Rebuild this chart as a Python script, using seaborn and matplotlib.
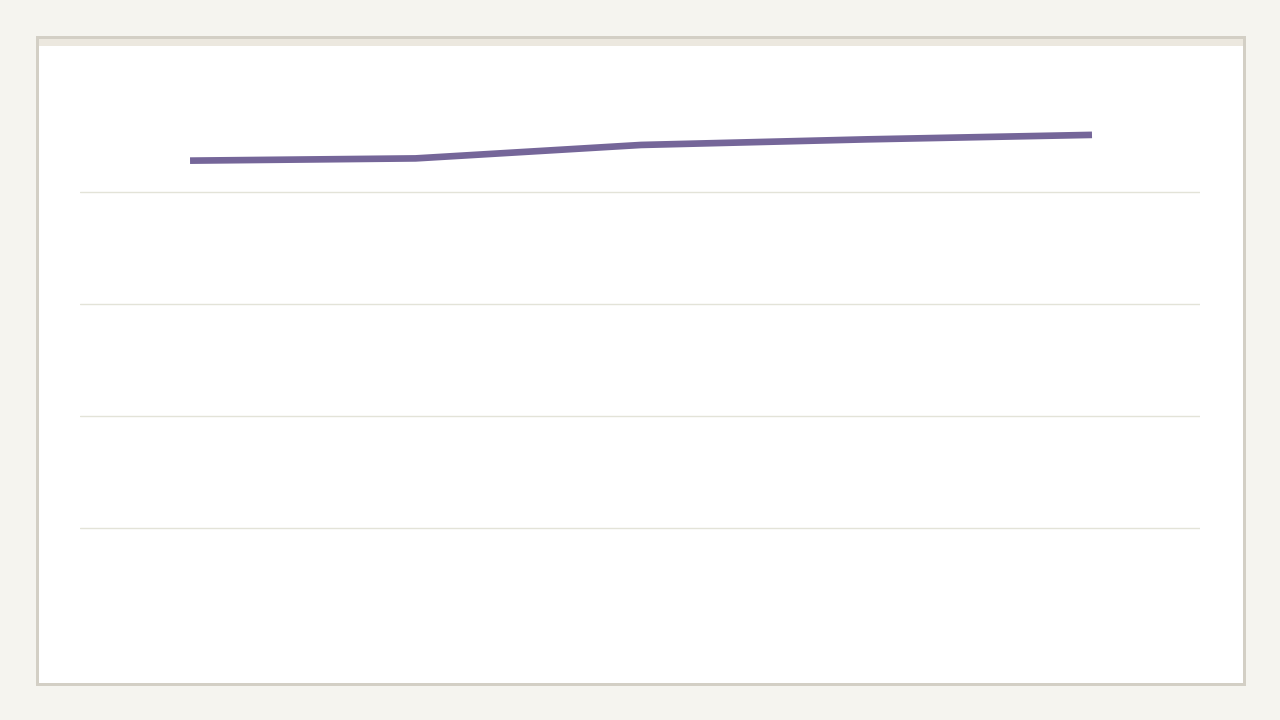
"""
Single-series trend line on a framed card, no labels.
"""
import matplotlib
matplotlib.use("Agg")
import matplotlib.pyplot as plt
from matplotlib.patches import Rectangle
import pandas as pd
import seaborn as sns

# values
periods = [0, 1, 2, 3, 4]
values = [42.8, 43.0, 44.2, 44.7, 45.1]
grid_levels = [10, 20, 30, 40]

PAGE_BG = "#f5f4ef"
BORDER = "#d3cfc5"
STRIP = "#ece8df"
GRID = "#e3e3d8"
LINE = "#756699"

sns.set_theme(style="white")

df = pd.DataFrame({"period": periods, "value": values})

W, H = 1280, 720
fig = plt.figure(figsize=(12.8, 7.2), dpi=100, facecolor=PAGE_BG)

# card: border, white body, beige strip on top (drawn beneath the axes)
for (x0, y0, x1, y1), col, z in [((36, 36, 1246, 686), BORDER, -30),
                                 ((39, 39, 1243, 683), "white", -20),
                                 ((39, 39, 1243, 46), STRIP, -10)]:
    fig.patches.append(Rectangle((x0 / W, 1 - y1 / H), (x1 - x0) / W, (y1 - y0) / H,
                                 transform=fig.transFigure, facecolor=col,
                                 edgecolor="none", zorder=z))

ax = fig.add_axes([80 / W, 1 - 640 / H, 1120 / W, 560 / H])
ax.set_facecolor("none")

sns.lineplot(data=df, x="period", y="value", color=LINE, linewidth=4.8,
             solid_capstyle="butt", solid_joinstyle="miter", ax=ax, legend=False)

ax.set_xlim(-0.488, 4.479)
ax.set_ylim(0, 50)
ax.set_yticks(grid_levels)
ax.set_xticks([])
ax.yaxis.grid(True, color=GRID, linewidth=1.0)
ax.set_axisbelow(True)
ax.tick_params(left=False, bottom=False, labelleft=False, labelbottom=False)
ax.set_xlabel("")
ax.set_ylabel("")
for s in ax.spines.values():
    s.set_visible(False)

fig.savefig("out.png", dpi=100, facecolor=PAGE_BG)
plt.close(fig)
